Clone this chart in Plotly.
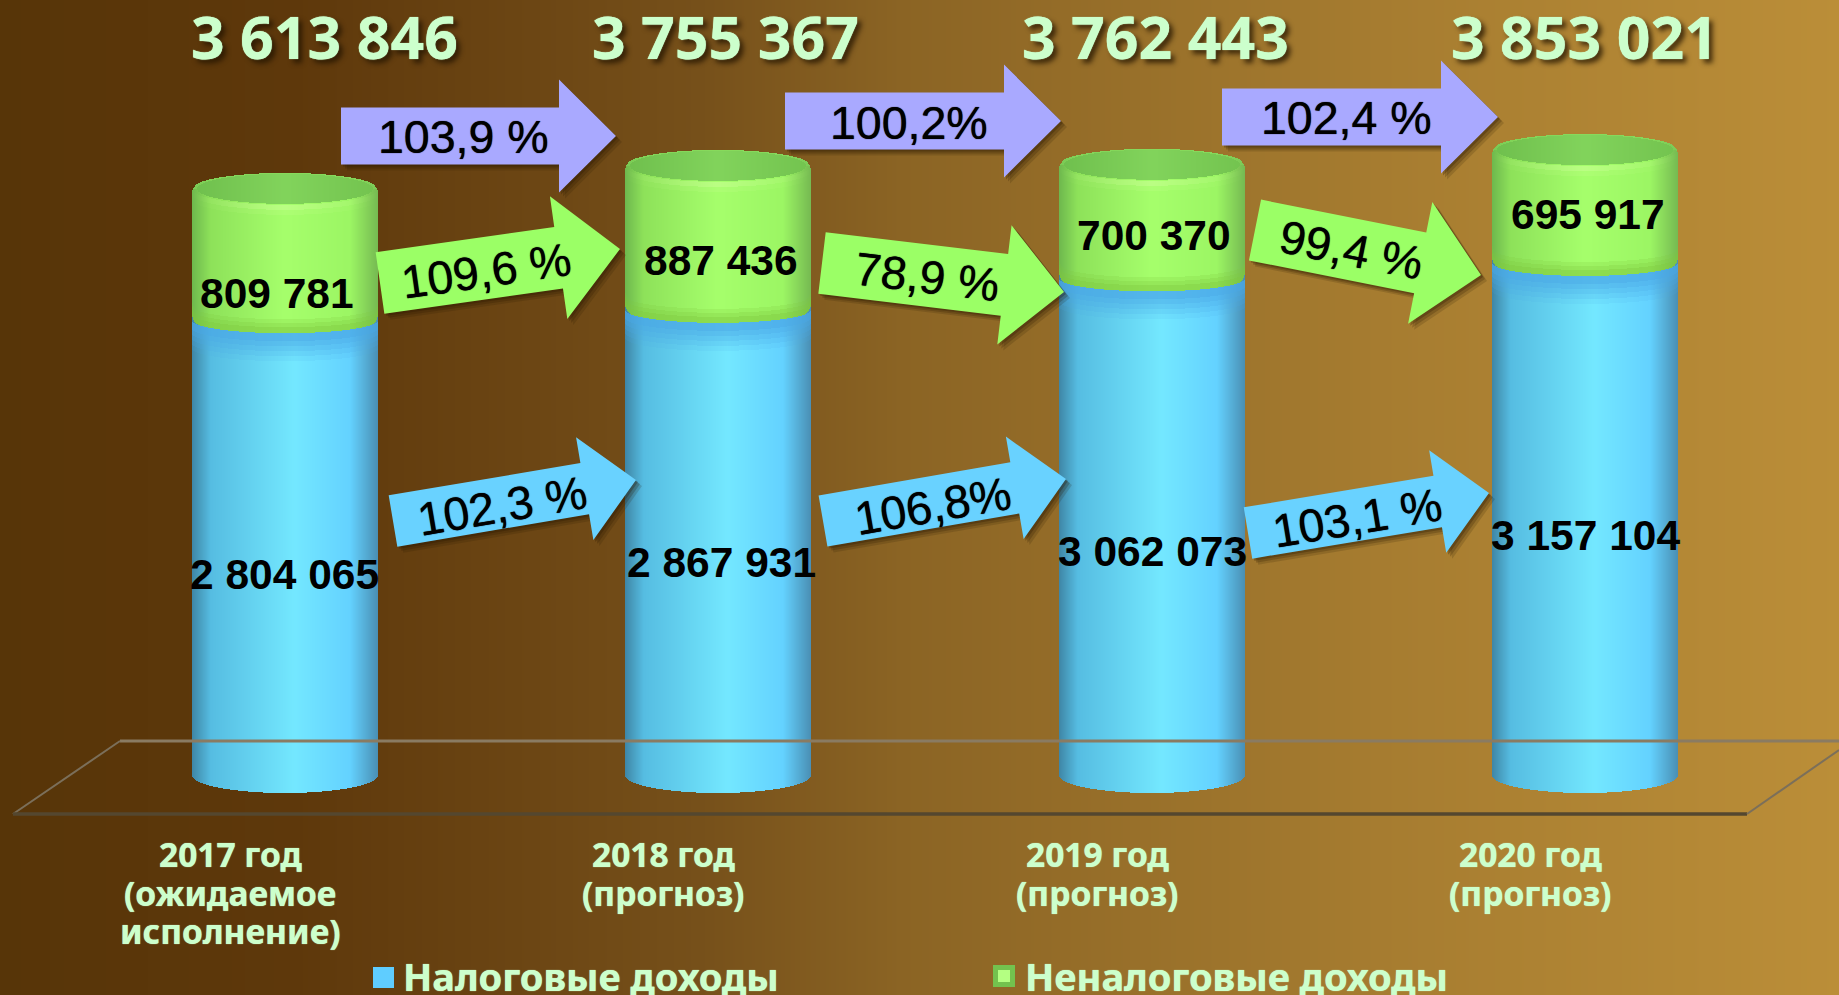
import math
import numpy as np
import plotly.graph_objects as go

W, H = 1839, 995

# data
categories = [["2017 год", "(ожидаемое", "исполнение)"], ["2018 год", "(прогноз)"], ["2019 год", "(прогноз)"], ["2020 год", "(прогноз)"]]
tax_income = [2804065, 2867931, 3062073, 3157104]
nontax_income = [809781, 887436, 700370, 695917]
totals = [3613846, 3755367, 3762443, 3853021]
total_growth = ["103,9 %", "100,2%", "102,4 %"]
nontax_growth = ["109,6 %", "78,9 %", "99,4 %"]
tax_growth = ["102,3 %", "106,8%", "103,1 %"]
legend_names = ["Налоговые доходы", "Неналоговые доходы"]

# layout in pixels of the page
BASE_PX = 775
PX_PER_UNIT = 0.0001622
BAR_X = [285, 718, 1152, 1585]
BAR_RX = 93
RY_BOTTOM, RY_JOIN, RY_TOP = 18, 13, 16
CORNER = 7
total_label_x = [324, 725, 1155, 1584]
cat_label_x = [230, 663, 1097, 1530]
tax_label_pos = [(284, 574), (721, 562), (1152, 551), (1585, 535)]
nontax_label_pos = [(277, 293), (721, 260), (1154, 235), (1588, 214)]

# (tail x, tail y, tip x, tip y, body half width, head half width, head length, text x, text y)
arrows_total = [(341, 136, 616, 136, 28.5, 56.5, 57, 464, 137),
                (785, 121, 1061, 121, 28.5, 56.5, 57, 909, 123),
                (1222, 117, 1498, 117, 28.5, 56.5, 57, 1346, 118)]
arrows_nontax = [(380, 283, 620, 249, 31, 62, 62, 486, 271),
                 (822, 263, 1064, 292, 31, 60, 60, 928, 277),
                 (1255, 230, 1481, 275, 31, 62, 62, 1351, 250)]
arrows_tax = [(393, 521, 636, 480, 26, 52, 52, 503, 506),
              (823, 521, 1066, 479, 26, 52, 52, 933, 506),
              (1248, 533, 1489, 493, 26, 52, 52, 1357, 518)]

BLUE_STOPS = [(0, "#3f86a6"), (0.1, "#56bde2"), (0.55, "#74e8ff"), (0.85, "#64d2ff"), (1, "#4a8fb4")]
GREEN_STOPS = [(0, "#6eb84e"), (0.1, "#8ee25a"), (0.5, "#a6ff6c"), (0.85, "#9cf664"), (1, "#76ba52")]
FACE_STOPS = [(0, "#70c04e"), (0.5, "#82d45c"), (1, "#74c450")]
BG_STOPS = [(0, "#573508"), (0.16, "#5e380b"), (0.38, "#76501a"), (0.49, "#8b6424"), (0.75, "#a67c30"), (1, "#bb8e38")]


def val(y_px):
    return (BASE_PX - y_px) / PX_PER_UNIT


def units(px):
    return px / PX_PER_UNIT


def hex_rgb(c):
    return tuple(int(c[i:i + 2], 16) for i in (1, 3, 5))


def shade(stops, t, mix=None, amount=0.0):
    for (t0, c0), (t1, c1) in zip(stops, stops[1:]):
        if t <= t1:
            f = (t - t0) / (t1 - t0)
            rgb = [a + (b - a) * f for a, b in zip(hex_rgb(c0), hex_rgb(c1))]
            break
    if mix:
        rgb = [a + (b - a) * amount for a, b in zip(rgb, hex_rgb(mix))]
    return "rgb(%d,%d,%d)" % tuple(rgb)


def fmt(v):
    return f"{v:,}".replace(",", " ")


def arc(dx, rx, ry):
    return units(ry) * math.sqrt(max(0, 1 - (dx / rx) ** 2))


def corner_drop(dx, rx):
    # rounds the shoulders of the green segment
    over = abs(dx) - (rx - CORNER)
    if over <= 0:
        return 0
    return units(CORNER) * (1 - math.sqrt(max(0, 1 - (over / CORNER) ** 2)))


def strips(cx, rx):
    return [cx - rx + 0.5 + i for i in range(2 * rx)]


fig = go.Figure()

# background gradient
bg_x = np.linspace(-50, W + 50, 120)
fig.add_trace(go.Heatmap(x=bg_x, y=[val(H + 20), val(-20)], z=[bg_x, bg_x], zmin=0, zmax=W,
                         colorscale=[[t, c] for t, c in BG_STOPS], showscale=False, hoverinfo="skip",
                         zsmooth="best"))

# floor frame
for xs, ys, color, width in [([120, W], [741, 741], "#8a7b62", 3),
                             ([120, 13], [741, 814], "#7b6f5a", 2),
                             ([13, 1747], [814, 814], "#54472f", 3.5),
                             ([1747, W], [814, 750], "#7b6f5a", 2)]:
    fig.add_trace(go.Scatter(x=xs, y=[val(y) for y in ys], mode="lines", line=dict(color=color, width=width),
                             hoverinfo="skip", showlegend=False))

# cylinders are stacked from 1px bar strips, so each side gets its own shading and curved ends
LAYER_NAMES = ["blue", "blue_band_0", "blue_band_1", "blue_band_2", "blue_band_3", "blue_band_4", "green", "rim",
               "green_band_0", "green_band_1", "green_band_2", "light_0", "light_1", "face"]
layers = {k: dict(x=[], base=[], y=[], color=[]) for k in LAYER_NAMES}


def put(name, x, lo, hi, color):
    layers[name]["x"].append(x)
    layers[name]["base"].append(lo)
    layers[name]["y"].append(max(hi - lo, 0))
    layers[name]["color"].append(color)


for cx, tax, nontax in zip(BAR_X, tax_income, nontax_income):
    top = tax + nontax
    for x in strips(cx, BAR_RX):
        dx = x - cx
        t = (dx + BAR_RX) / (2 * BAR_RX)
        drop = corner_drop(dx, BAR_RX)
        join = tax - arc(dx, BAR_RX, RY_JOIN)
        head = top - arc(dx, BAR_RX, RY_TOP)
        upper = top + arc(dx, BAR_RX, RY_TOP) - drop
        put("blue", x, -arc(dx, BAR_RX, RY_BOTTOM), tax + units(14), shade(BLUE_STOPS, t))
        for i in range(5):
            put(f"blue_band_{i}", x, join - units(28 - 5 * i), join, shade(BLUE_STOPS, t, "#4aa8e6", 0.12 + 0.16 * i))
        put("green", x, join + drop, upper, shade(GREEN_STOPS, t))
        put("rim", x, top, upper, shade(GREEN_STOPS, t, "#7ecf58", 0.75))
        for i in range(3):
            put(f"green_band_{i}", x, join + drop, join + drop + units(14 - 4 * i), shade(GREEN_STOPS, t, "#7ec83e", 0.2 + 0.2 * i))
        put("light_0", x, head - units(10), head, shade(GREEN_STOPS, t, "#c8ff90", 0.2 * (1 - abs(2 * t - 1))))
        put("light_1", x, head - units(5), head, shade(GREEN_STOPS, t, "#d0ff9c", 0.5 * (1 - abs(2 * t - 1))))
    face_rx = BAR_RX - 5
    for x in strips(cx, face_rx):
        dx = x - cx
        t = (dx + face_rx) / (2 * face_rx)
        h = arc(dx, face_rx, RY_TOP - 1)
        put("face", x, top - h, top + h, shade(FACE_STOPS, t))

for name in LAYER_NAMES:
    d = layers[name]
    fig.add_trace(go.Bar(x=d["x"], y=d["y"], base=d["base"], width=1, name=name, showlegend=False,
                         marker=dict(color=d["color"], line_width=0), hoverinfo="skip"))


# arrows and legend marks are drawn in page pixels
def px(x):
    return x / W


def py(y):
    return 1 - y / H


def arrow_path(tx, ty, hx, hy, body, head, head_len, off=0):
    length = math.hypot(hx - tx, hy - ty)
    ux, uy = (hx - tx) / length, (hy - ty) / length
    nx, ny = -uy, ux
    pts = [(0, body), (length - head_len, body), (length - head_len, head), (length, 0),
           (length - head_len, -head), (length - head_len, -body), (0, -body)]
    out = [(tx + a * ux + b * nx + off, ty + a * uy + b * ny + off) for a, b in pts]
    return "M " + " L ".join(f"{px(a):.5f},{py(b):.5f}" for a, b in out) + " Z"


shapes = []
annotations = []


def label(x, y, text, size, color, family, bold=False, angle=0, shadow=None, xanchor="center"):
    font = dict(size=size, color=color, family=family, weight="bold" if bold else "normal")
    if shadow:
        font["shadow"] = shadow
    annotations.append(dict(x=px(x), y=py(y), xref="paper", yref="paper", text=text, showarrow=False, font=font,
                            textangle=angle, xanchor=xanchor, yanchor="middle", borderpad=0))


for group, texts, color in [(arrows_total, total_growth, "#a9a9ff"), (arrows_nontax, nontax_growth, "#9bff66"),
                            (arrows_tax, tax_growth, "#69d2ff")]:
    for (tx, ty, hx, hy, body, head, head_len, lx, ly), text in zip(group, texts):
        for off, alpha in [(6, 0.16), (4, 0.22), (2, 0.28)]:
            shapes.append(dict(type="path", xref="paper", yref="paper", line_width=0,
                               path=arrow_path(tx, ty, hx, hy, body, head, head_len, off),
                               fillcolor=f"rgba(40,22,0,{alpha})"))
        shapes.append(dict(type="path", xref="paper", yref="paper", line_width=0,
                           path=arrow_path(tx, ty, hx, hy, body, head, head_len), fillcolor=color))
        angle = math.degrees(math.atan2(hy - ty, hx - tx))
        label(lx, ly, text, 46.5, "#000000", "Liberation Sans", angle=round(angle, 1), shadow="0 0 1px #000000")

TEXT_GREEN = "#ccffcc"
HEAD_FONT = "Noto Sans"
for x, v in zip(total_label_x, totals):
    label(x, 36, fmt(v), 59, TEXT_GREEN, HEAD_FONT, bold=True,
          shadow="0 0 1px #ccffcc, 4px 4px 5px rgba(35,20,0,0.75)")

for (x, y), v in zip(tax_label_pos, tax_income):
    label(x, y, fmt(v), 42.5, "#000000", "Liberation Sans", bold=True)
for (x, y), v in zip(nontax_label_pos, nontax_income):
    label(x, y, fmt(v), 42.5, "#000000", "Liberation Sans", bold=True)

for x, lines in zip(cat_label_x, categories):
    for i, line in enumerate(lines):
        label(x, 854 + 38.5 * i, line, 33.5, TEXT_GREEN, HEAD_FONT, bold=True, shadow="0 0 1px #ccffcc")

# legend
shapes.append(dict(type="rect", xref="paper", yref="paper", x0=px(373), x1=px(394), y0=py(988), y1=py(967),
                   fillcolor="#5fcdff", line_width=0))
shapes.append(dict(type="rect", xref="paper", yref="paper", x0=px(993), x1=px(1015), y0=py(987), y1=py(965),
                   fillcolor="#73c24e", line_width=0))
shapes.append(dict(type="rect", xref="paper", yref="paper", x0=px(998), x1=px(1010), y0=py(982), y1=py(970),
                   fillcolor="#b4ff82", line_width=0))
label(402, 976, legend_names[0], 38, TEXT_GREEN, HEAD_FONT, bold=True, xanchor="left", shadow="0 0 1px #ccffcc")
label(1024, 976, legend_names[1], 38, TEXT_GREEN, HEAD_FONT, bold=True, xanchor="left", shadow="0 0 1px #ccffcc")

fig.update_layout(
    width=W, height=H, margin=dict(l=0, r=0, t=0, b=0), barmode="overlay", bargap=0,
    showlegend=False, paper_bgcolor="#8b6424", plot_bgcolor="rgba(0,0,0,0)",
    xaxis=dict(range=[0, W], visible=False, fixedrange=True),
    yaxis=dict(range=[val(H), val(0)], visible=False, fixedrange=True),
    shapes=shapes, annotations=annotations,
)

fig.write_html("out.html", config=dict(displayModeBar=False),
               post_script="document.body.style.margin='0';document.documentElement.style.overflow='hidden';")
